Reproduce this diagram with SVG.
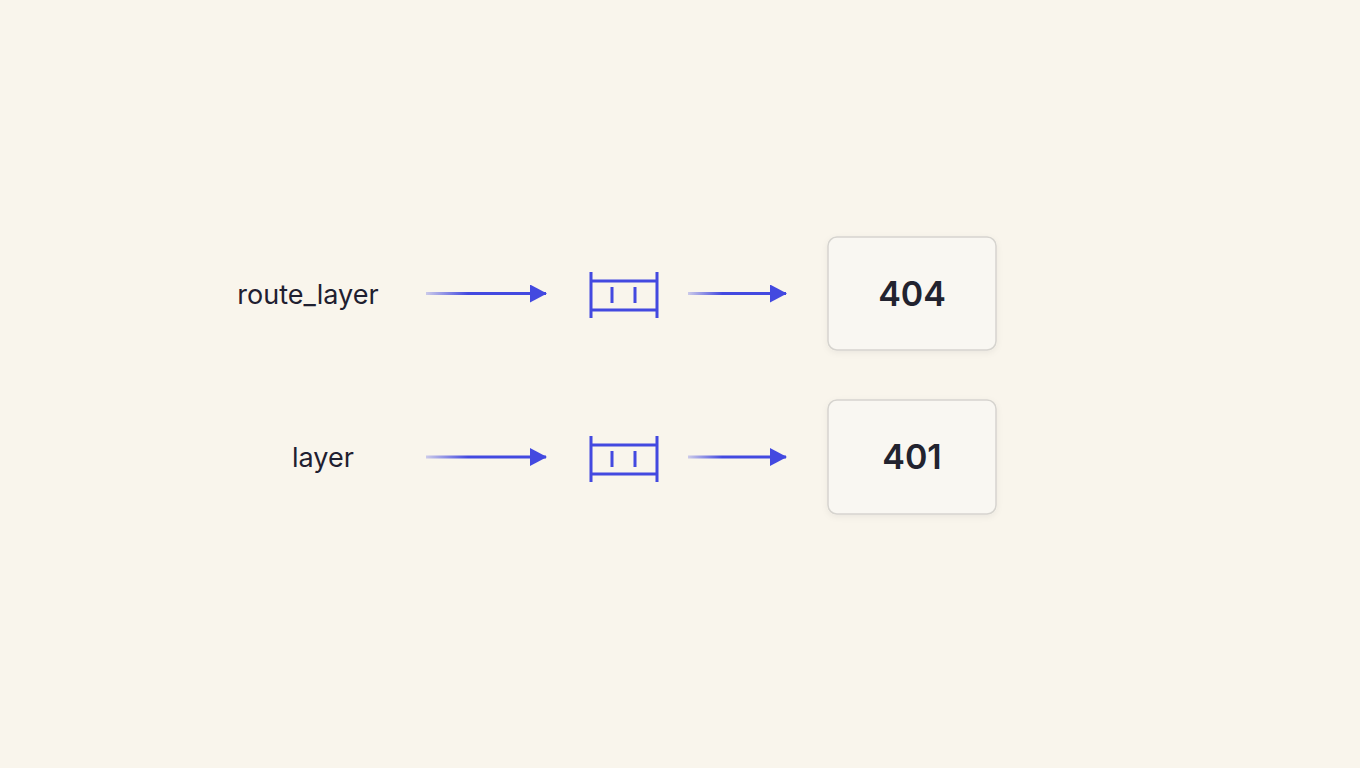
<svg xmlns="http://www.w3.org/2000/svg" width="1360" height="768" viewBox="0 0 1360 768">
<defs>
<linearGradient id="fa" gradientUnits="userSpaceOnUse" x1="426" y1="0" x2="546" y2="0"><stop offset="0" stop-color="#4349e0" stop-opacity="0.25"/><stop offset="0.35" stop-color="#4349e0"/><stop offset="1" stop-color="#4349e0"/></linearGradient>
<linearGradient id="fb" gradientUnits="userSpaceOnUse" x1="688" y1="0" x2="786" y2="0"><stop offset="0" stop-color="#4349e0" stop-opacity="0.25"/><stop offset="0.35" stop-color="#4349e0"/><stop offset="1" stop-color="#4349e0"/></linearGradient>
<marker id="ah" markerWidth="18" markerHeight="18" refX="16" refY="9" orient="auto" markerUnits="userSpaceOnUse" viewBox="0 0 18 18"><path d="M0,0 L17,9 L0,18 Z" fill="#4349e0"/></marker>
<filter id="sh" x="-10%" y="-10%" width="120%" height="130%"><feDropShadow dx="0" dy="2" stdDeviation="3" flood-color="#000" flood-opacity="0.06"/></filter>
</defs>
<style>
.lbl{font-family:Inter,"Liberation Sans",sans-serif;font-size:27px;fill:#1f2030}
.num{font-family:Inter,"Liberation Sans",sans-serif;font-size:34px;font-weight:600;fill:#22232f}
.box{fill:#f9f7f2;stroke:#d6d4cf;stroke-width:1.5}
.ic{stroke:#4349e0;stroke-width:3;fill:none}
</style>
<rect width="1360" height="768" fill="#f9f5ec"/>
<g id="label1"><text class="lbl" x="308" y="304" text-anchor="middle">route_layer</text></g>
<g id="label2"><text class="lbl" x="323" y="467" text-anchor="middle">layer</text></g>
<g id="icon1" class="ic"><path d="M591,272V318M657,272V318M591,281H657M591,310H657M612,287V303M635,287V303"/></g>
<g id="icon2" class="ic"><path d="M591,436V482M657,436V482M591,445H657M591,474H657M612,451V467M635,451V467"/></g>
<g id="box1"><rect class="box" x="828" y="237" width="168" height="113" rx="9" filter="url(#sh)"/><text class="num" x="912" y="306" text-anchor="middle">404</text></g>
<g id="box2"><rect class="box" x="828" y="400" width="168" height="114" rx="9" filter="url(#sh)"/><text class="num" x="912" y="469" text-anchor="middle">401</text></g>
<g id="connectors" fill="none" stroke-width="3">
<path stroke="url(#fa)" d="M426,293.5H546" marker-end="url(#ah)"/>
<path stroke="url(#fb)" d="M688,293.5H786" marker-end="url(#ah)"/>
<path stroke="url(#fa)" d="M426,457H546" marker-end="url(#ah)"/>
<path stroke="url(#fb)" d="M688,457H786" marker-end="url(#ah)"/>
</g>
</svg>
